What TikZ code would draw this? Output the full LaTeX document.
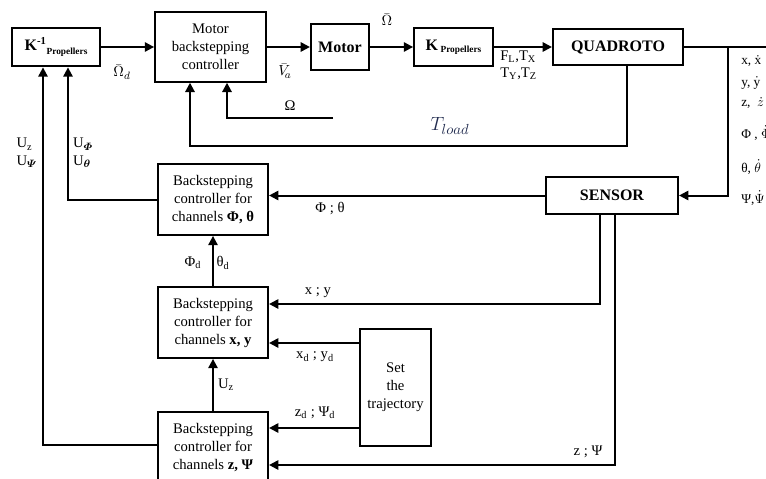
\documentclass[tikz,border=0pt]{standalone}
\usepackage{amsmath,bm}
\usepackage{fontspec}
\setmainfont{Liberation Serif}
\usetikzlibrary{arrows.meta,positioning,calc}
\definecolor{tloadblue}{RGB}{35,45,80}
\tikzset{
  blk/.style={rectangle,draw=black,line width=1.6pt,align=center,font=\fontsize{11}{13.5}\selectfont,inner sep=2pt},
  bigblk/.style={blk,font=\fontsize{12}{14}\selectfont\bfseries},
  arr/.style={-{Triangle[length=7pt,width=7pt]},line width=1.5pt},
  lin/.style={line width=1.5pt},
  lbl/.style={font=\fontsize{11}{13}\selectfont,inner sep=0pt},
  stl/.style={font=\fontsize{10}{12}\selectfont,anchor=west,inner sep=0pt}
}

\begin{document}
\begin{tikzpicture}[x=0.75pt,y=-0.75pt]
  \useasboundingbox (0,0) rectangle (766,478);
  % blocks
  \node[blk,minimum width=66pt,minimum height=29pt] (kinv) at (56,47)
    {\textbf{\fontsize{12}{14}\selectfont K\textsuperscript{-1}}\raisebox{-0.5ex}{\scriptsize\bfseries Propellers}};
  \node[blk,minimum width=83pt,minimum height=52pt] (mbc) at (210.5,47) {Motor\\backstepping\\controller};
  \node[bigblk,minimum width=43.5pt,minimum height=34.5pt] (motor) at (340,47) {Motor};
  \node[blk,minimum width=59pt,minimum height=29pt] (kprop) at (453.5,47)
    {\textbf{\fontsize{12}{14}\selectfont K}\,\raisebox{-0.3ex}{\scriptsize\bfseries Propellers}};
  \node[bigblk,minimum width=97.5pt,minimum height=27pt] (quad) at (618,47) {QUADROTO};
  \node[bigblk,minimum width=99pt,minimum height=28pt] (sensor) at (612,195.5) {SENSOR};
  \node[blk,minimum width=82.5pt,minimum height=53pt] (bphi) at (213,199.5)
    {Backstepping\\controller for\\channels \textbf{Φ, θ}};
  \node[blk,minimum width=82.5pt,minimum height=53pt] (bxy) at (213,322.5)
    {Backstepping\\controller for\\channels \textbf{x, y}};
  \node[blk,minimum width=53pt,minimum height=88pt] (traj) at (395.5,387.5) {Set\\the\\trajectory};
  \node[blk,minimum width=82.5pt,minimum height=53pt] (bz) at (213,447.5)
    {Backstepping\\controller for\\channels \textbf{z, Ψ}};
  % forward path
  \draw[arr] (kinv) -- (mbc);
  \draw[arr] (mbc) -- (motor);
  \draw[arr] (motor) -- (kprop);
  \draw[arr] (kprop) -- (quad);
  \coordinate (qout) at (770,47);
  \coordinate (tap) at (728,47);
  \draw[lin] (quad.east) -- (qout);
  \draw[arr] (tap) |- (sensor.east);
  % motor feedback
  \coordinate (omg) at (333,118);
  \draw[arr] (omg) -| (mbc.south -| 227,0);
  \draw[arr] (quad.south -| 627,0) |- (190,146) -- (mbc.south -| 190,0);
  % outer loops
  \draw[arr] (bphi.west) -| (kinv.south -| 68,0);
  \draw[arr] (bz.west |- 0,445) -| (kinv.south -| 43,0);
  \draw[arr] (sensor.west) -- (bphi.east |- sensor.west);
  \draw[arr] (sensor.south -| 600,0) |- (bxy.east |- 0,304);
  \draw[arr] (sensor.south -| 615,0) |- (bz.east |- 0,465);
  \draw[arr] (traj.west |- 0,343) -- (bxy.east |- 0,343);
  \draw[arr] (traj.west |- 0,428) -- (bz.east |- 0,428);
  \draw[arr] (bxy.north) -- (bphi.south);
  \draw[arr] (bz.north) -- (bxy.south);
  % labels
  \node[lbl] (lomd) at (122,72) {$\bar{\Omega}_d$};
  \node[lbl] (lva) at (285,71) {$\bar{V}_{\!a}$};
  \node[lbl] (lom) at (387,20) {$\bar{\Omega}$};
  \node[lbl,align=left,anchor=west] (lft) at (500,65) {F\textsubscript{L},T\textsubscript{X}\\T\textsubscript{Y},T\textsubscript{Z}};
  \node[lbl] (lomg) at (290,106) {Ω};
  \node[inner sep=0pt,font=\fontsize{15}{18}\selectfont,text=tloadblue] (ltl) at (450,126) {$T_{load}$};
  \node[lbl,align=left] (luz) at (27,153) {U\textsubscript{z}\\U$_{\bm{\varPsi}}$};
  \node[lbl,align=left] (luphi) at (83,153) {U$_{\bm{\varPhi}}$\\U$_{\bm{\theta}}$};
  \node[lbl] (lpt) at (330,208) {Φ ; θ};
  \node[lbl] (lpd) at (193,263) {Φ\textsubscript{d}};
  \node[lbl] (ltd) at (223,263) {θ\textsubscript{d}};
  \node[lbl] (lxy) at (318,293) {x ; y};
  \node[lbl] (lxyd) at (315,357) {x\textsubscript{d} ; y\textsubscript{d}};
  \node[lbl] (luz2) at (226,385) {U\textsubscript{z}};
  \node[lbl] (lzd) at (315,413) {z\textsubscript{d} ; Ψ\textsubscript{d}};
  \node[lbl] (lzp) at (588,452) {z ; Ψ};
  % states
  \node[stl] (sx) at (741,61) {x, $\dot{\mathrm{x}}$};
  \node[stl] (sy) at (741,83) {y, $\dot{\mathrm{y}}$};
  \node[stl] (sz) at (741,103) {z, \ $\dot{z}$};
  \node[stl] (sphi) at (741,133) {Φ , $\dot{\Phi}$};
  \node[stl] (sth) at (741,167) {θ, $\dot{\theta}$};
  \node[stl] (sps) at (741,198) {Ψ,$\dot{\Psi}$};
\end{tikzpicture}
\end{document}
